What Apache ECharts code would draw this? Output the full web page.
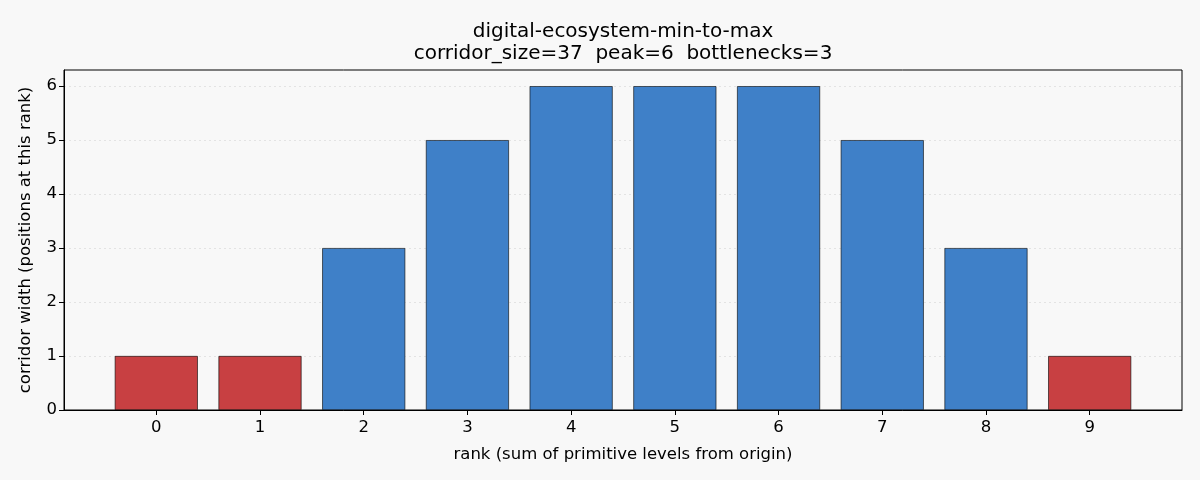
<!DOCTYPE html>
<html>
<head>
<meta charset="utf-8">
<script src="https://cdn.jsdelivr.net/npm/echarts@6/dist/echarts.min.js"></script>
<style>
  html, body { margin: 0; padding: 0; background: #f8f8f8; }
  #chart { width: 1200px; height: 480px; }
</style>
</head>
<body>
<div id="chart"></div>
<script>
// rank -> corridor width
var ranks = [0, 1, 2, 3, 4, 5, 6, 7, 8, 9];
var widths = [1, 1, 3, 5, 6, 6, 6, 5, 3, 1];
// ranks that are bottlenecks (drawn red)
var bottlenecks = [0, 1, 9];
var yTicks = [0, 1, 2, 3, 4, 5, 6];

var titleText = 'digital-ecosystem-min-to-max\ncorridor_size=37  peak=6  bottlenecks=3';

var fontFam = 'DejaVu Sans';
var gridLeft = 64, gridRight = 18;
var xMin = -0.89, xMax = 9.89;
var plotW = 1200 - gridLeft - gridRight;
// bar width 0.8 of one rank unit
var barW = plotW / (xMax - xMin) * 0.8;

var barData = [];
for (var i = 0; i < ranks.length; i++) {
    var red = bottlenecks.indexOf(ranks[i]) >= 0;
    barData.push({
        value: [ranks[i], widths[i]],
        itemStyle: { color: red ? '#c84042' : '#3f80c8' }
    });
}

var myChart = echarts.init(document.getElementById('chart'));
var option = {
    backgroundColor: '#f8f8f8',
    animation: false,
    title: {
        text: titleText,
        // centred over the plot area, not the page
        left: gridLeft + plotW / 2 - 5,
        textAlign: 'center',
        top: 16,
        textStyle: {
            fontFamily: fontFam,
            fontSize: 20,
            fontWeight: 'normal',
            color: '#000',
            lineHeight: 22
        }
    },
    grid: {
        left: gridLeft,
        right: gridRight,
        top: 70,
        bottom: 70,
        show: true,
        borderColor: '#000',
        borderWidth: 1,
        backgroundColor: 'transparent'
    },
    xAxis: {
        type: 'value',
        min: xMin,
        max: xMax,
        name: 'rank (sum of primitive levels from origin)',
        nameLocation: 'middle',
        nameGap: 36,
        nameTextStyle: { fontFamily: fontFam, fontSize: 16.5, color: '#000' },
        axisLine: { show: true, onZero: false, lineStyle: { color: '#000', width: 1 } },
        axisTick: { show: true, inside: false, length: 5, customValues: ranks, lineStyle: { color: '#000' } },
        axisLabel: { customValues: ranks, fontFamily: fontFam, fontSize: 16.5, color: '#000', margin: 9 },
        splitLine: { show: false }
    },
    yAxis: {
        type: 'value',
        min: 0,
        max: 6.3,
        interval: 1,
        name: 'corridor width (positions at this rank)',
        nameLocation: 'middle',
        nameGap: 30,
        nameTextStyle: { fontFamily: fontFam, fontSize: 16.5, color: '#000' },
        axisLine: { show: true, onZero: false, lineStyle: { color: '#000', width: 1 } },
        axisTick: { show: true, inside: false, length: 5, customValues: yTicks, lineStyle: { color: '#000' } },
        axisLabel: { customValues: yTicks, fontFamily: fontFam, fontSize: 16.5, color: '#000', margin: 7 },
        splitLine: { show: true, lineStyle: { color: '#dddddd', type: [2, 3], width: 0.8 } }
    },
    series: [{
        type: 'bar',
        data: barData,
        barWidth: barW,
        itemStyle: { borderColor: '#000', borderWidth: 0.6 }
    }]
};
myChart.setOption(option);
</script>
</body>
</html>
